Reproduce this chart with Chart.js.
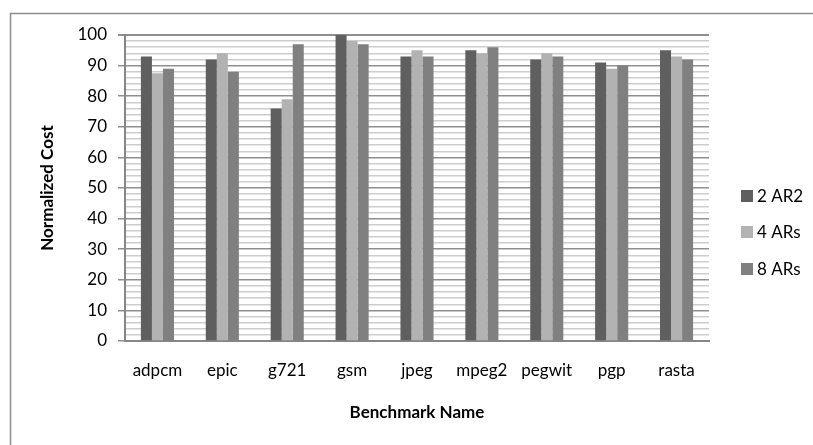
<!DOCTYPE html>
<html>
<head>
<meta charset="utf-8">
<script src="https://cdn.jsdelivr.net/npm/chart.js@4.4.1/dist/chart.umd.min.js"></script>
<style>
  html, body { margin: 0; padding: 0; background: #ffffff; }
  #wrap { width: 813px; height: 445px; position: relative; }
</style>
</head>
<body>
<div id="wrap"><canvas id="c" width="813" height="445"></canvas></div>
<script>
const categories = ['adpcm', 'epic', 'g721', 'gsm', 'jpeg', 'mpeg2', 'pegwit', 'pgp', 'rasta'];
const series2AR2 = [93, 92, 76, 100, 93, 95, 92, 91, 95];
const series4ARs = [87.5, 94, 79, 98, 95, 94, 94, 89, 93];
const series8ARs = [89, 88, 97, 97, 93, 96, 93, 90, 92];
const seriesNames = ['2 AR2', '4 ARs', '8 ARs'];
const seriesColors = ['#5f5f5f', '#b2b2b2', '#808080'];
const yTicks = [0, 10, 20, 30, 40, 50, 60, 70, 80, 90, 100];

const FONT = 'Lato, "Open Sans", sans-serif';

const framePlugin = {
  id: 'frame',
  beforeDraw(chart) {
    const ctx = chart.ctx;
    ctx.save();
    ctx.fillStyle = '#ffffff';
    ctx.fillRect(0, 0, chart.width, chart.height);
    ctx.strokeStyle = '#8c8c8c';
    ctx.lineWidth = 1.5;
    ctx.beginPath();
    ctx.moveTo(10.5, chart.height);
    ctx.lineTo(10.5, 13.5);
    ctx.lineTo(chart.width, 13.5);
    ctx.stroke();
    ctx.restore();
  }
};

const legendPlugin = {
  id: 'customLegend',
  afterDraw(chart) {
    const ctx = chart.ctx;
    ctx.save();
    ctx.font = '17px ' + FONT;
    ctx.textBaseline = 'middle';
    ctx.textAlign = 'left';
    const ys = [196, 232, 269];
    chart.data.datasets.forEach((ds, i) => {
      ctx.fillStyle = ds.backgroundColor;
      ctx.fillRect(741, ys[i] - 6, 12, 12);
      ctx.fillStyle = '#000000';
      ctx.fillText(ds.label, 757, ys[i] + 1);
    });
    ctx.restore();
  }
};

new Chart(document.getElementById('c'), {
  type: 'bar',
  data: {
    labels: categories,
    datasets: [
      { label: seriesNames[0], data: series2AR2, backgroundColor: seriesColors[0] },
      { label: seriesNames[1], data: series4ARs, backgroundColor: seriesColors[1] },
      { label: seriesNames[2], data: series8ARs, backgroundColor: seriesColors[2] }
    ]
  },
  options: {
    responsive: false,
    animation: false,
    events: [],
    layout: { padding: { top: 35, right: 104, left: 0, bottom: 0 } },
    datasets: { bar: { categoryPercentage: 0.51, barPercentage: 1.0 } },
    plugins: {
      legend: { display: false },
      tooltip: { enabled: false }
    },
    scales: {
      x: {
        grid: { display: false, drawTicks: false },
        border: { display: true, color: '#868686', width: 2 },
        ticks: { color: '#000000', font: { family: FONT, size: 17 }, padding: 19, maxRotation: 0, autoSkip: false },
        title: { display: true, text: 'Benchmark Name', color: '#000000', font: { family: FONT, size: 17, weight: 'bold' }, padding: { top: 0, bottom: 22 } },
        afterFit(scale) { scale.height = 104; }
      },
      y: {
        min: 0,
        max: 100,
        ticks: {
          stepSize: 2,
          color: '#000000',
          font: { family: FONT, size: 17 },
          padding: 11,
          autoSkip: false,
          callback(v) { return yTicks.includes(v) ? String(v) : ''; }
        },
        grid: {
          color(ctx) { return (ctx.tick && ctx.tick.value % 10 === 0) ? '#8f8f8f' : '#cdcdcd'; },
          lineWidth(ctx) { return (ctx.tick && ctx.tick.value === 100) ? 2 : 1.5; },
          tickColor(ctx) { return (ctx.tick && ctx.tick.value % 10 === 0) ? '#8f8f8f' : 'rgba(0,0,0,0)'; },
          tickLength: 7
        },
        border: { display: true, color: '#868686', width: 2 },
        title: { display: true, text: 'Normalized Cost', color: '#000000', font: { family: FONT, size: 17, weight: 'bold' }, padding: { top: 37, bottom: 0 } },
        afterFit(scale) { scale.width = 125; }
      }
    }
  },
  plugins: [framePlugin, legendPlugin]
});
</script>
</body>
</html>
